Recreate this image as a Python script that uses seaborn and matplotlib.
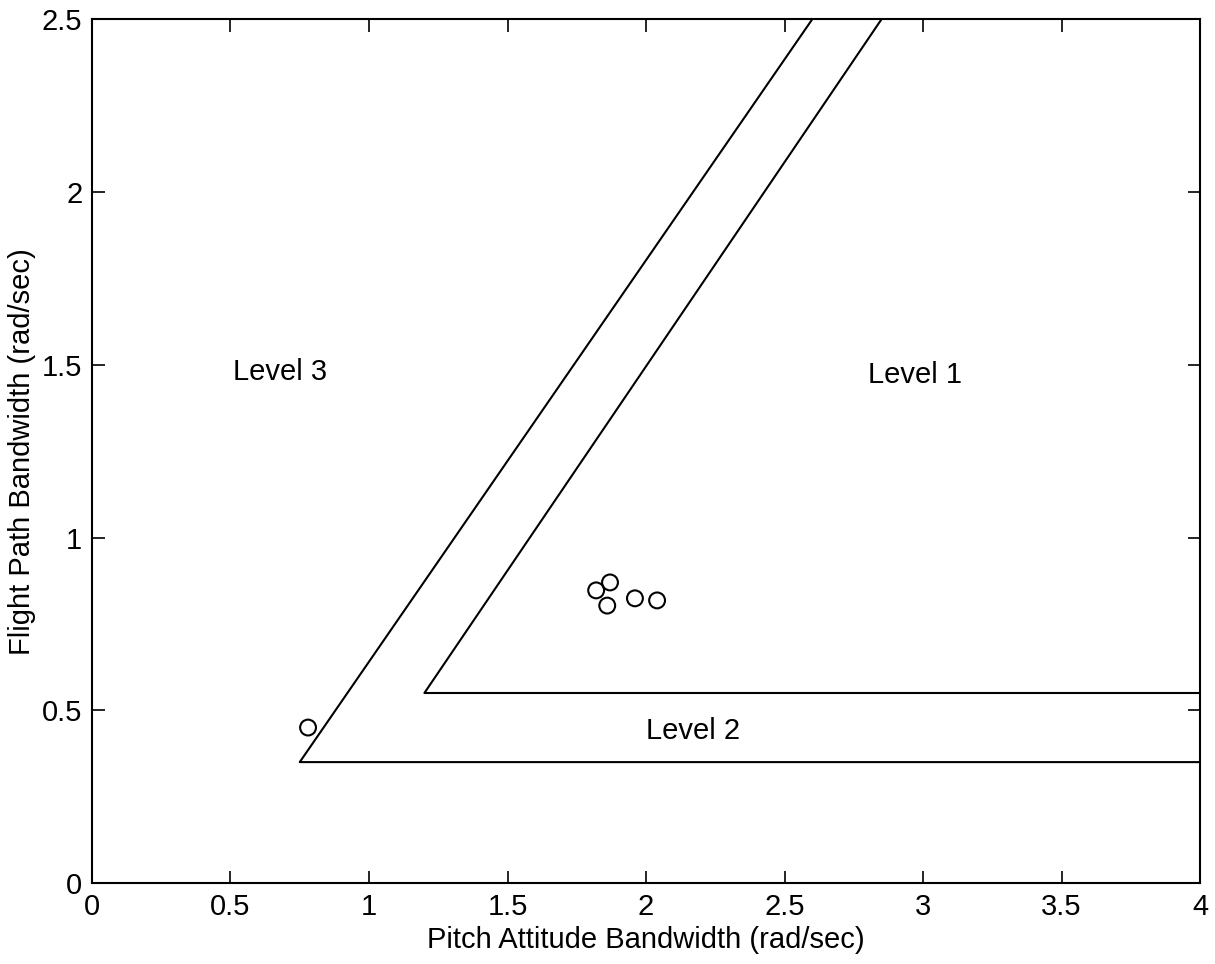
import matplotlib
matplotlib.use("Agg")
import matplotlib.pyplot as plt
import seaborn as sns
import pandas as pd
import numpy as np

# Handling-quality boundaries (pitch attitude bw vs flight path bw)
level3_x = [2.60, 0.75, 4.0]
level3_y = [2.50, 0.35, 0.35]
level1_x = [2.85, 1.20, 4.0]
level1_y = [2.50, 0.55, 0.55]

# Measured configurations
pts_x = [0.78, 1.82, 1.87, 1.86, 1.96, 2.04]
pts_y = [0.45, 0.847, 0.870, 0.803, 0.824, 0.818]

region_labels = ["Level 3", "Level 1", "Level 2"]
region_x = [0.68, 2.97, 2.17]
region_y = [1.48, 1.47, 0.44]

x_ticks = [0, 0.5, 1, 1.5, 2, 2.5, 3, 3.5, 4]
y_ticks = [0, 0.5, 1, 1.5, 2, 2.5]
x_tick_labels = ["0", "0.5", "1", "1.5", "2", "2.5", "3", "3.5", "4"]
y_tick_labels = ["0", "0.5", "1", "1.5", "2", "2.5"]

sns.set_style("ticks")
plt.rcParams["font.family"] = ["Liberation Sans", "DejaVu Sans"]
plt.rcParams["text.color"] = "black"
plt.rcParams["axes.labelcolor"] = "black"

FS = 21

fig = plt.figure(figsize=(12.15, 9.64), dpi=100)
ax = fig.add_axes([0.0757, 0.084, 0.912, 0.896])

b3 = pd.DataFrame({"x": level3_x, "y": level3_y})
b1 = pd.DataFrame({"x": level1_x, "y": level1_y})
for df in (b3, b1):
    sns.lineplot(data=df, x="x", y="y", sort=False, estimator=None,
                 color="black", linewidth=1.5, ax=ax)

pts = pd.DataFrame({"x": pts_x, "y": pts_y})
sns.scatterplot(data=pts, x="x", y="y", marker="o", s=130,
                facecolors="none", edgecolor="black", linewidth=1.5, ax=ax)

for lab, tx, ty in zip(region_labels, region_x, region_y):
    ax.text(tx, ty, lab, ha="center", va="center", fontsize=FS, color="black")

ax.set_xlim(0, 4)
ax.set_ylim(0, 2.5)
ax.set_xticks(x_ticks)
ax.set_xticklabels(x_tick_labels)
ax.set_yticks(y_ticks)
ax.set_yticklabels(y_tick_labels)
ax.tick_params(direction="in", length=9, width=1.2, labelsize=FS,
               top=True, right=True, pad=7, colors="black",
               labelcolor="black")
for sp in ax.spines.values():
    sp.set_visible(True)
    sp.set_linewidth(1.5)
    sp.set_color("black")

ax.set_xlabel("Pitch Attitude Bandwidth (rad/sec)", fontsize=FS, labelpad=4)
ax.set_ylabel("Flight Path Bandwidth (rad/sec)", fontsize=FS, labelpad=4)

fig.savefig("out.png", dpi=100, facecolor="white")
